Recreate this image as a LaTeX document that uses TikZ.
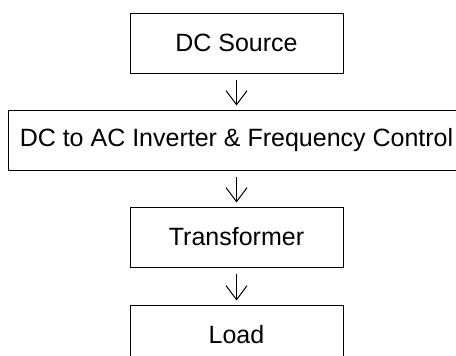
\documentclass[tikz,border=0pt]{standalone}
\usepackage{fontspec}
\setmainfont{Liberation Sans}
\usepackage{tikz}
\usetikzlibrary{arrows.meta,positioning}

\begin{document}
\begin{tikzpicture}[x=1pt, y=1pt, node distance=36pt]
\tikzset{blocknode/.style={draw,line width=1pt,minimum width=213pt,minimum height=60pt,inner xsep=9pt,font=\fontsize{25}{30}\selectfont},
flowarrow/.style={line width=1pt,-{Straight Barb[length=14pt,width=21pt]},shorten <=6pt,shorten >=4pt}}

\useasboundingbox (0,0) rectangle (456,-356);

\node (dcsrc) [blocknode] at (236.5,-43) {DC Source};
\node (inverter) [blocknode,below=of dcsrc,minimum width=457pt] {DC to AC Inverter \& Frequency Control};
\node (transf) [blocknode,below=of inverter] {Transformer};
\node (load) [blocknode,below=37pt of transf] {Load};

%% Edges
\draw[flowarrow] (dcsrc) -- (inverter);
\draw[flowarrow] (inverter) -- (transf);
\draw[flowarrow] (transf) -- (load);

\end{tikzpicture}
\end{document}
